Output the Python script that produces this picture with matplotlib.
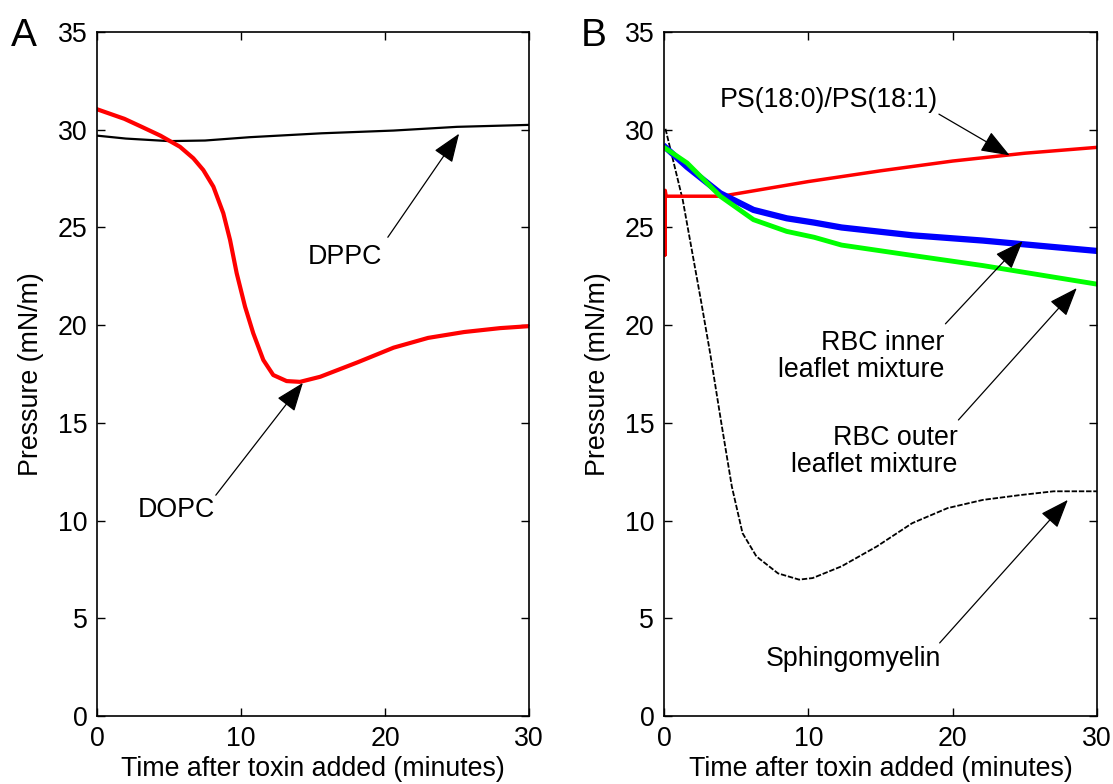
"""
Pressure vs time after toxin addition, lipid monolayers (panels A and B).
"""

import numpy as np
import matplotlib
matplotlib.use('Agg')
import matplotlib.pyplot as plt

plt.rcParams['font.family'] = ['Liberation Sans', 'DejaVu Sans']
FS = 19.3
plt.rcParams['font.size'] = FS

# ----------------------------------------------------------------------------
# Data (time in minutes, pressure in mN/m)
# ----------------------------------------------------------------------------
# Panel A
dopc_t = [0, 1.9, 3.16, 4.4, 5.76, 6.69, 7.38, 8.08, 8.77, 9.24, 9.7, 10.28,
          10.85, 11.55, 12.24, 13.17, 14.1, 15.5, 18.1, 20.6, 23.0, 25.5, 28, 30]
dopc_p = [31.05, 30.56, 30.13, 29.7, 29.13, 28.54, 27.94, 27.09, 25.73, 24.36,
          22.66, 20.95, 19.59, 18.22, 17.45, 17.14, 17.1, 17.36, 18.1, 18.85,
          19.35, 19.65, 19.85, 19.95]

dppc_t = [0, 2, 5, 7.5, 10.6, 15.6, 20.6, 25, 30]
dppc_p = [29.7, 29.55, 29.42, 29.45, 29.62, 29.82, 29.96, 30.15, 30.25]

# Panel B
ps_t = [0.08, 0.08, 0.08, 0.15, 4, 10, 15, 20, 25, 30]
ps_p = [26.6, 23.6, 26.9, 26.6, 26.6, 27.35, 27.9, 28.4, 28.8, 29.1]

inner_t = [0.1, 1.6, 3.9, 6.2, 8.5, 10.4, 12.3, 17.2, 22.1, 27, 30]
inner_p = [29.1, 28.1, 26.75, 25.9, 25.47, 25.25, 25.0, 24.6, 24.33, 24.0, 23.8]

outer_t = [0.1, 1.6, 3.9, 6.2, 8.5, 10.4, 12.3, 17.2, 22.1, 27, 30]
outer_p = [29.05, 28.3, 26.6, 25.4, 24.8, 24.5, 24.1, 23.57, 23.05, 22.46, 22.1]

sm_t = [0.1, 1.3, 2.55, 3.2, 3.97, 4.7, 5.44, 6.4, 7.9, 9.36, 10.3, 12.3,
        14.75, 17.2, 19.65, 22.1, 24.6, 27, 30]
sm_p = [30.05, 26.4, 21.3, 18.55, 15.0, 11.74, 9.36, 8.17, 7.3, 6.98, 7.06,
        7.66, 8.68, 9.87, 10.64, 11.06, 11.3, 11.5, 11.5]

xticks = [0, 10, 20, 30]
yticks = [0, 5, 10, 15, 20, 25, 30, 35]

RED = '#ff0000'
BLUE = '#0000ff'
GREEN = '#00ff00'


def style_axes(ax):
    ax.set_xlim(0, 30)
    ax.set_ylim(0, 35)
    ax.set_xticks(xticks)
    ax.set_yticks(yticks)
    ax.tick_params(direction='in', length=6, width=1, pad=7,
                   top=True, right=True, labelsize=FS)
    for s in ax.spines.values():
        s.set_linewidth(1.2)
    ax.set_xlabel('Time after toxin added (minutes)', fontsize=FS, labelpad=3)
    ax.set_ylabel('Pressure (mN/m)', fontsize=FS, labelpad=10)


def arrow(ax, tail, tip):
    ax.annotate('', xy=tip, xytext=tail,
                arrowprops=dict(arrowstyle='-|>,head_length=1.0,head_width=0.38',
                                mutation_scale=18, lw=0.9, color='k',
                                shrinkA=0, shrinkB=0))


fig = plt.figure(figsize=(11.13, 7.84), dpi=100)
axA = fig.add_axes([0.0872, 0.0867, 0.388, 0.8724])
axB = fig.add_axes([0.5966, 0.0867, 0.389, 0.8724])

# ---------------------------------------------------------------- Panel A
axA.plot(dppc_t, dppc_p, color='k', lw=1.6)
axA.plot(dopc_t, dopc_p, color=RED, lw=3)
style_axes(axA)

axA.text(17.2, 23.5, 'DPPC', ha='center', va='center')
arrow(axA, (20.2, 24.5), (25.15, 29.8))
axA.text(5.5, 10.55, 'DOPC', ha='center', va='center')
arrow(axA, (8.25, 11.3), (14.3, 17.05))

# ---------------------------------------------------------------- Panel B
axB.plot(sm_t, sm_p, color='k', lw=1.3, linestyle=(0, (3, 1)))
axB.plot(ps_t, ps_p, color=RED, lw=2.5)
axB.plot(inner_t, inner_p, color=BLUE, lw=4.5)
axB.plot(outer_t, outer_p, color=GREEN, lw=3.5)
style_axes(axB)

axB.text(11.4, 31.5, 'PS(18:0)/PS(18:1)', ha='center', va='center')
arrow(axB, (19.05, 30.8), (23.95, 28.69))
axB.text(19.4, 18.4, 'RBC inner\nleaflet mixture', ha='right', va='center',
         linespacing=1.05)
arrow(axB, (19.5, 20.07), (24.85, 24.3))
axB.text(20.35, 13.55, 'RBC outer\nleaflet mixture', ha='right', va='center',
         linespacing=1.05)
arrow(axB, (20.4, 15.15), (28.6, 21.9))
axB.text(13.1, 2.9, 'Sphingomyelin', ha='center', va='center')
arrow(axB, (19.1, 3.74), (27.98, 11.06))

# panel letters
fig.text(11 / 1113, 1 - 46 / 784, 'A', fontsize=28, va='baseline', ha='left')
fig.text(581 / 1113, 1 - 46 / 784, 'B', fontsize=28, va='baseline', ha='left')

fig.savefig('out.png', dpi=100)
